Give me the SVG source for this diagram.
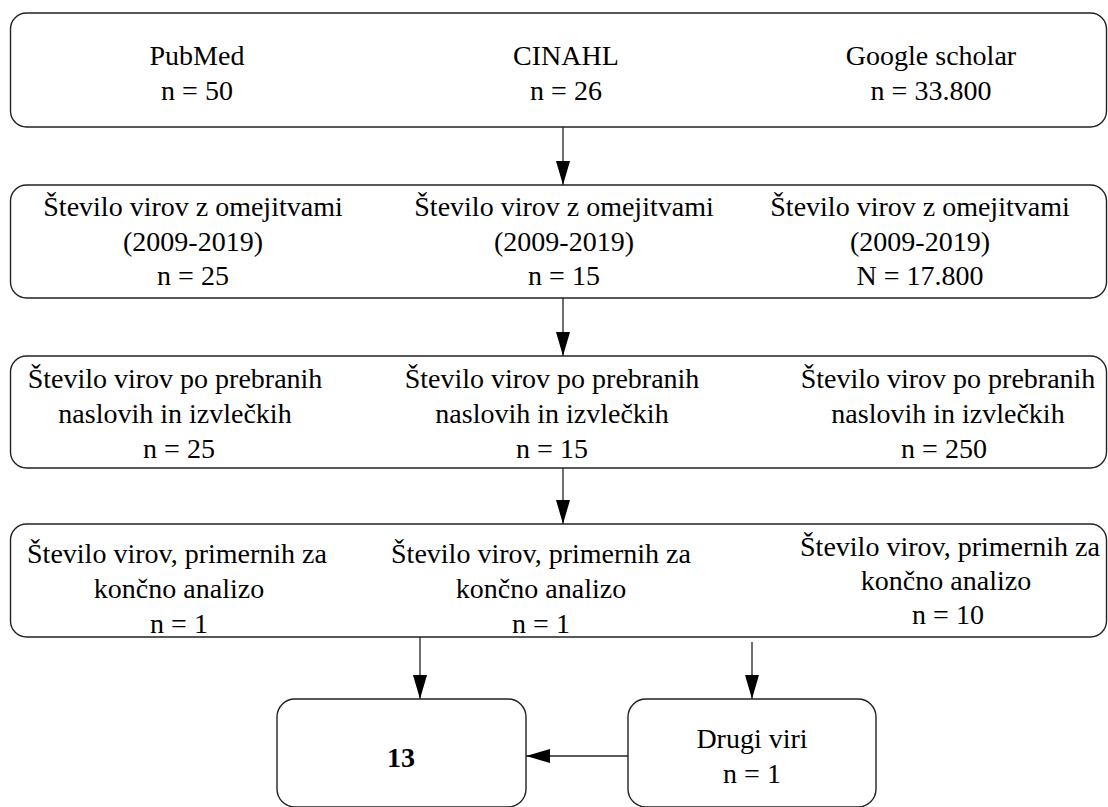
<svg xmlns="http://www.w3.org/2000/svg" width="1108" height="807" viewBox="0 0 1108 807">
<defs>
<marker id="ah" viewBox="0 0 24 14" refX="24" refY="7" markerWidth="24" markerHeight="14" markerUnits="userSpaceOnUse" orient="auto">
<path d="M0,0 L24,7 L0,14 Z" fill="#000"/>
</marker>
<style>
.box{fill:#fff;stroke:#222;stroke-width:1.4}
.t{font-family:'Liberation Serif','DejaVu Serif','Times New Roman',serif;font-size:28px;fill:#000;text-anchor:middle}
.b{font-weight:bold}
.c{stroke:#222;stroke-width:1.3;fill:none}
</style>
</defs>
<rect width="1108" height="807" fill="#fff"/>
<g id="connectors">
<line class="c" x1="563" y1="127" x2="563" y2="185" marker-end="url(#ah)"/>
<line class="c" x1="563" y1="298" x2="563" y2="356" marker-end="url(#ah)"/>
<line class="c" x1="563" y1="468" x2="563" y2="524" marker-end="url(#ah)"/>
<line class="c" x1="420" y1="637" x2="420" y2="699" marker-end="url(#ah)"/>
<line class="c" x1="752" y1="642" x2="752" y2="699" marker-end="url(#ah)"/>
<line class="c" x1="628" y1="756" x2="526" y2="756" marker-end="url(#ah)"/>
</g>
<g font-family="Liberation Serif, DejaVu Serif, serif">
<g id="n1">
<rect class="box" x="10.5" y="13" width="1096" height="114" rx="16"/>
<text class="t" x="197" y="65">PubMed</text>
<text class="t" x="197" y="100">n = 50</text>
<text class="t" x="566" y="65">CINAHL</text>
<text class="t" x="566" y="100">n = 26</text>
<text class="t" x="931" y="65">Google scholar</text>
<text class="t" x="931" y="100">n = 33.800</text>
</g>
<g id="n2">
<rect class="box" x="10.5" y="185" width="1096" height="113" rx="16"/>
<text class="t" x="193" y="216">Število virov z omejitvami</text>
<text class="t" x="193" y="251">(2009-2019)</text>
<text class="t" x="193" y="285">n = 25</text>
<text class="t" x="564" y="216">Število virov z omejitvami</text>
<text class="t" x="564" y="251">(2009-2019)</text>
<text class="t" x="564" y="285">n = 15</text>
<text class="t" x="920" y="216">Število virov z omejitvami</text>
<text class="t" x="920" y="251">(2009-2019)</text>
<text class="t" x="920" y="285">N = 17.800</text>
</g>
<g id="n3">
<rect class="box" x="10.5" y="356" width="1096" height="112" rx="16"/>
<text class="t" x="175" y="388">Število virov po prebranih</text>
<text class="t" x="175" y="423">naslovih in izvlečkih</text>
<text class="t" x="179" y="458">n = 25</text>
<text class="t" x="552" y="388">Število virov po prebranih</text>
<text class="t" x="552" y="423">naslovih in izvlečkih</text>
<text class="t" x="552" y="458">n = 15</text>
<text class="t" x="948" y="388">Število virov po prebranih</text>
<text class="t" x="948" y="423">naslovih in izvlečkih</text>
<text class="t" x="944" y="458">n = 250</text>
</g>
<g id="n4">
<rect class="box" x="10.5" y="524" width="1096" height="113" rx="16"/>
<text class="t" x="177" y="563">Število virov, primernih za</text>
<text class="t" x="179" y="598">končno analizo</text>
<text class="t" x="179" y="633">n = 1</text>
<text class="t" x="541" y="563">Število virov, primernih za</text>
<text class="t" x="541" y="598">končno analizo</text>
<text class="t" x="541" y="633">n = 1</text>
<text class="t" x="950" y="556">Število virov, primernih za</text>
<text class="t" x="946" y="590">končno analizo</text>
<text class="t" x="948" y="624">n = 10</text>
</g>
<g id="n5">
<rect class="box" x="277" y="699" width="249" height="108" rx="18"/>
<text class="t b" x="401" y="767">13</text>
</g>
<g id="n6">
<rect class="box" x="628" y="699" width="248" height="108" rx="18"/>
<text class="t" x="752" y="748">Drugi viri</text>
<text class="t" x="752" y="783">n = 1</text>
</g>
</g>
</svg>
